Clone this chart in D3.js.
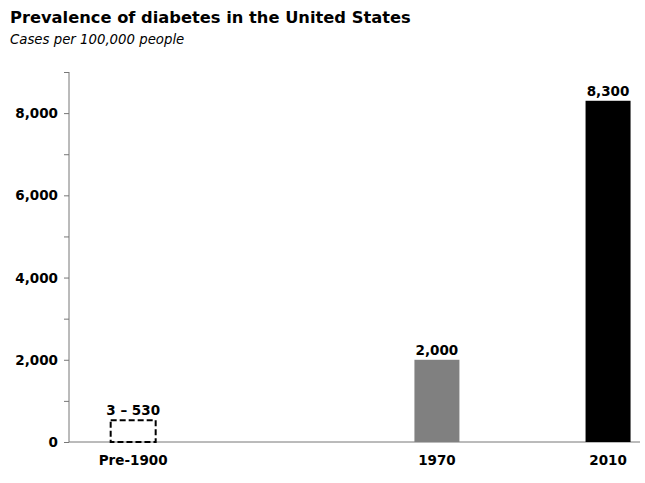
<!DOCTYPE html>
<html>
<head>
<meta charset="utf-8">
<script src="https://cdn.jsdelivr.net/npm/d3@7"></script>
<style>
  html, body { margin: 0; padding: 0; background: #fff; overflow: hidden; }
  svg { display: block; }
  text { font-family: "DejaVu Sans", "Liberation Sans", Arial, sans-serif; }
</style>
</head>
<body>
<div id="plot"></div>
<script>
// Width and height
const w = 645;
const h = 483;
const margin = {top: 72, right: 5, bottom: 41, left: 69};
const innerWidth = w - margin.left - margin.right;
const innerHeight = h - margin.top - margin.bottom;

// data
const labels = ["Pre-1900", "1970", "2010"];
const years = [1899, 1970, 2010];
const values = [530, 2000, 8300];
const valueLabels = ["3 \u2013 530", "2,000", "8,300"];
const yTicks = [0, 2000, 4000, 6000, 8000];
const yMinorTicks = [1000, 3000, 5000, 7000, 9000];

const svg = d3.select("div#plot")
  .append("svg")
    .attr("width", w)
    .attr("height", h);

// title
svg.append("text")
  .attr("x", 10)
  .attr("y", 23)
  .style("font-size", "16.3px")
  .style("font-weight", "bold")
  .text("Prevalence of diabetes in the United States");

svg.append("text")
  .attr("x", 10)
  .attr("y", 44)
  .style("font-size", "13.3px")
  .style("font-style", "italic")
  .text("Cases per 100,000 people");

const xScale = d3.scaleLinear()
  .domain([1884, 2017])
  .range([margin.left, margin.left + 569]);

const yScale = d3.scaleLinear()
  .domain([0, 9000])
  .range([margin.top + innerHeight, margin.top]);

const barW = 45;

// y-axis ticks (major + minor), labels drawn separately
svg.append("g")
  .attr("id", "yaxis")
  .attr("transform", `translate (${margin.left}, 0)`)
  .call(d3.axisLeft(yScale).tickValues(yTicks.concat(yMinorTicks)).tickSize(5).tickFormat(""))
  .call(a => a.select(".domain").attr("stroke", "#777")
    .attr("d", `M0,${margin.top}V${margin.top + innerHeight}`))
  .call(a => a.selectAll(".tick text").remove())
  .call(a => a.selectAll(".tick line").attr("stroke", "#777"));

// y tick labels
svg.selectAll("text.ytick")
  .data(yTicks)
  .enter()
  .append("text")
    .attr("class", "ytick")
    .attr("x", margin.left - 11)
    .attr("y", d => yScale(d) + 5)
    .attr("text-anchor", "end")
    .style("font-size", "13.5px")
    .style("font-weight", "bold")
    .text(d => d3.format(",")(d));

// x-axis baseline
svg.append("line")
  .attr("x1", margin.left)
  .attr("x2", margin.left + innerWidth)
  .attr("y1", yScale(0))
  .attr("y2", yScale(0))
  .attr("stroke", "#777");

// bars
const fills = ["none", "#808080", "#000"];
svg.selectAll("rect.bar")
  .data(values)
  .enter()
  .append("rect")
    .attr("class", "bar")
    .attr("x", (d, i) => xScale(years[i]) - barW / 2)
    .attr("y", d => yScale(d))
    .attr("width", barW)
    .attr("height", d => yScale(0) - yScale(d))
    .attr("fill", (d, i) => fills[i])
    .attr("stroke", (d, i) => i === 0 ? "#000" : "none")
    .attr("stroke-width", 2)
    .attr("stroke-dasharray", (d, i) => i === 0 ? "6,3" : null);

// value labels
svg.selectAll("text.val")
  .data(values)
  .enter()
  .append("text")
    .attr("class", "val")
    .attr("x", (d, i) => xScale(years[i]))
    .attr("y", d => yScale(d) - 5)
    .attr("text-anchor", "middle")
    .style("font-size", "13.5px")
    .style("font-weight", "bold")
    .text((d, i) => valueLabels[i]);

// category labels
svg.selectAll("text.cat")
  .data(labels)
  .enter()
  .append("text")
    .attr("class", "cat")
    .attr("x", (d, i) => xScale(years[i]))
    .attr("y", yScale(0) + 23)
    .attr("text-anchor", "middle")
    .style("font-size", "13.5px")
    .style("font-weight", "bold")
    .text(d => d);
</script>
</body>
</html>
